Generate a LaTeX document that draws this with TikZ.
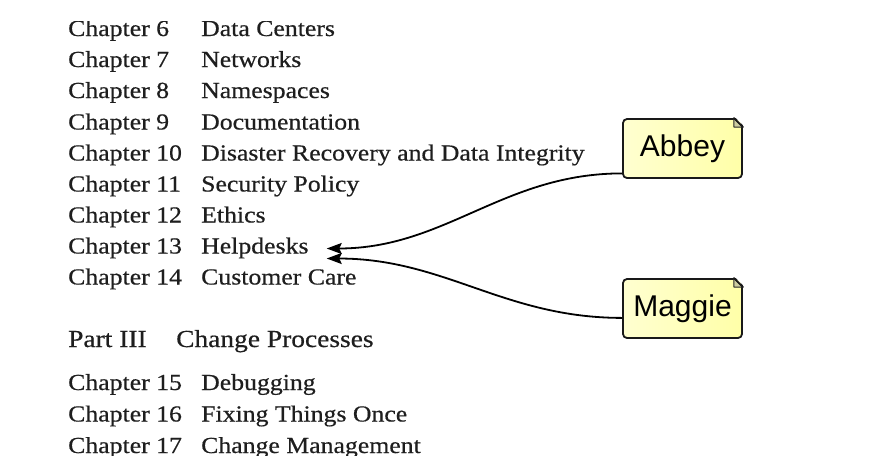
\documentclass[tikz,border=0pt]{standalone}
\usepackage{fontspec}
\setmainfont{Liberation Serif}
\newfontfamily\tocfont[FakeStretch=1.12,FakeBold=0.5]{Liberation Serif}
\newfontfamily\notefont{Liberation Sans}
\usetikzlibrary{arrows.meta,positioning}
\definecolor{notefill}{RGB}{255,255,208}
\definecolor{notefillb}{RGB}{255,255,168}
\definecolor{foldfill}{RGB}{205,205,160}
\definecolor{tocgray}{RGB}{30,30,30}
\tikzset{
  toc/.style={anchor=base west,inner sep=0pt,text=tocgray,font=\tocfont\fontsize{23}{23}\selectfont},
  parttitle/.style={toc,font=\tocfont\fontsize{24.5}{24.5}\selectfont},
  note/.style={draw=black!90,line width=1.8pt,rounded corners=4pt,left color=notefill,right color=notefillb,
    minimum width=119pt,minimum height=59pt,inner sep=0pt,font=\notefont\fontsize{30}{30}\selectfont},
  link/.style={draw=black,line width=1.8pt,-{Stealth[length=15pt,width=11pt,inset=2.5pt]}}
}

\begin{document}
\begin{tikzpicture}[x=1pt,y=-1pt]
  \useasboundingbox (0,0) rectangle (875,475);
  \begin{scope}
    \clip (0,21.5) rectangle (875,455);
    \foreach \num/\title/\y in {6/Data Centers/36,7/Networks/67,8/Namespaces/98,
        9/Documentation/129.5,10/Disaster Recovery and Data Integrity/160.5,
        11/Security Policy/191.5,12/Ethics/222.5,13/Helpdesks/253.5,14/Customer Care/284.5,
        15/Debugging/390,16/Fixing Things Once/421.5,17/Change Management/453}{
      \node [toc] (ch\num) at (68,\y) {Chapter \num};
      \node [toc] (t\num) at (201,\y) {\title};
    }
    \node [parttitle] (part) at (68,347) {Part III};
    \node [parttitle] (ptitle) at (176,347) {Change Processes};
  \end{scope}
  % the two notes
  \node [note] (abbey) at (682.5,148.5) {Abbey};
  \node [note] (maggie) at (682.5,308.5) {Maggie};
  \foreach \n in {abbey,maggie}{
    \fill [white] ([xshift=-9pt,yshift=2pt]\n.north east) -- ([xshift=2pt,yshift=2pt]\n.north east)
      -- ([xshift=2pt,yshift=-9pt]\n.north east) -- cycle;
    \filldraw [fill=foldfill,draw=black!85,line width=0.9pt,line join=round]
      ([xshift=-9pt]\n.north east) -- ([yshift=-9pt]\n.north east) -- ([xshift=-9pt,yshift=-9pt]\n.north east) -- cycle;
    \draw [black!90,line width=1.8pt,line cap=round] ([xshift=-9pt]\n.north east) -- ([yshift=-9pt]\n.north east);
  }
  \coordinate (tipa) at ([xshift=18pt,yshift=5pt]t13.base east);
  \coordinate (tipm) at ([xshift=18pt,yshift=-5pt]t13.base east);
  \draw [link] ([yshift=5.5pt]abbey.south west) to [out=180,in=0] (tipa);
  \draw [link] ([yshift=21pt]maggie.south west) to [out=180,in=0] (tipm);
\end{tikzpicture}
\end{document}
